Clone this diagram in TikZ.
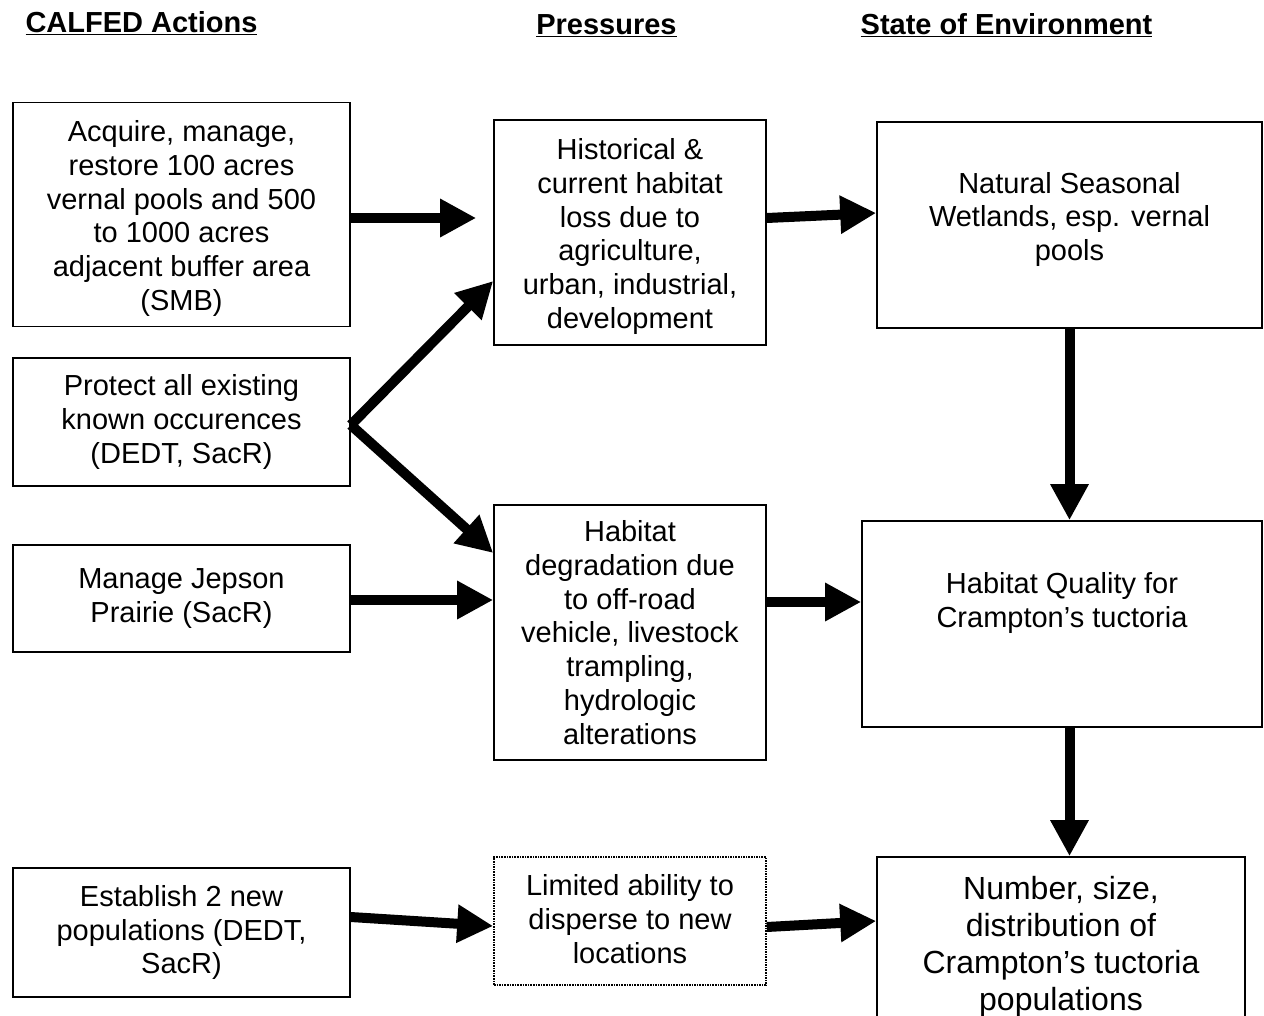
\documentclass[tikz,border=0pt]{standalone}
\usepackage{fontspec}
\setmainfont{Liberation Sans}
\usetikzlibrary{arrows.meta}
% block of centred lines whose first baseline sits #1 above the box centre
\newcommand{\placedlines}[2]{\raisebox{#1}[0pt][0pt]{\begin{tabular}[t]{@{}c@{}}#2\end{tabular}}}
\begin{document}
\begin{tikzpicture}[x=1pt,y=-1pt,
  box/.style={draw,line width=1.6pt,align=center,inner sep=0pt,
    font=\fontsize{29}{33.8}\selectfont},
  dotbox/.style={box,densely dotted},
  head/.style={font=\fontsize{29}{34}\selectfont\bfseries,anchor=base,inner sep=0pt},
  arr/.style={line width=10pt,-{Triangle[length=36pt,width=36pt]}}]
\useasboundingbox (0,0) rectangle (1264,1015);

% column headings
\node[head] (h1) at (141.5,32.5) {\underline{CALFED Actions}};
\node[head] (h2) at (606.5,34.5) {\underline{Pressures}};
\node[head] (h3) at (1006.5,34.5) {\underline{State of Environment}};

% CALFED actions
\node[box,minimum width=337pt,minimum height=224pt] (A1) at (181.5,214.5)
  {\placedlines{73pt}{Acquire, manage,\\restore 100 acres\\vernal pools and 500\\to 1000 acres\\adjacent buffer area\\(SMB)}};
\node[box,minimum width=337pt,minimum height=128pt] (A2) at (181.5,422)
  {Protect all existing\\known occurences\\(DEDT, SacR)};
\node[box,minimum width=337pt,minimum height=107pt] (A3) at (181.5,598.5)
  {Manage Jepson\\Prairie (SacR)};
\node[box,minimum width=337pt,minimum height=129pt] (A4) at (181.5,932.5)
  {Establish 2 new\\populations (DEDT,\\SacR)};

% pressures
\node[box,minimum width=272pt,minimum height=225pt] (P1) at (630,232.5)
  {\placedlines{73pt}{Historical \&\\current habitat\\loss due to\\agriculture,\\urban, industrial,\\development}};
\node[box,minimum width=272pt,minimum height=255pt] (P2) at (630,632.5)
  {Habitat\\degradation due\\to off-road\\vehicle, livestock\\trampling,\\hydrologic\\alterations};
\node[dotbox,minimum width=272pt,minimum height=128pt] (P3) at (630,921)
  {\placedlines{25.5pt}{Limited ability to\\disperse to new\\locations}};

% state of environment
\node[box,minimum width=385pt,minimum height=206pt] (S1) at (1069.5,225)
  {\placedlines{32pt}{Natural Seasonal\\Wetlands, esp. vernal\\pools}};
\node[box,minimum width=400pt,minimum height=206pt] (S2) at (1062,624)
  {\placedlines{30.5pt}{Habitat Quality for\\Crampton’s tuctoria}};
\node[box,minimum width=368pt,minimum height=190pt,font=\fontsize{32}{37}\selectfont] (S3) at (1061,952)
  {\placedlines{53pt}{Number, size,\\distribution of\\Crampton’s tuctoria\\populations}};

% connectors
\draw[arr,shorten >=17pt] (A1.east |- 0,218) -- (P1.west |- 0,218);
\draw[arr] (A2.east |- 0,425) -- (P1.west |- 0,281);
\draw[arr] (A2.east |- 0,425) -- (P2.west |- 0,553);
\draw[arr] (A3.east |- 0,600) -- (P2.west |- 0,600);
\draw[arr] (A4.east |- 0,917) -- (P3.west |- 0,926);
\draw[arr] (P1.east |- 0,218) -- (S1.west |- 0,213);
\draw[arr] (P2.east |- 0,602) -- (S2.west |- 0,602);
\draw[arr] (P3.east |- 0,927) -- (S3.west |- 0,921);
\draw[arr] (S1.south) -- (S2.north -| S1.south);
\draw[arr] (S2.south -| S1.south) -- (S3.north -| S1.south);
\end{tikzpicture}
\end{document}
